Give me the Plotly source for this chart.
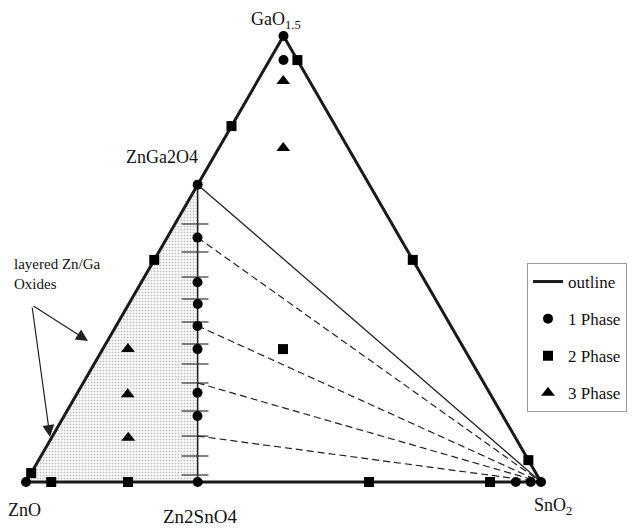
import math
import plotly.graph_objects as go

S3 = math.sqrt(3) / 2

# compositions as (SnO2 fraction, GaO1.5 fraction); ZnO = remainder
vertices = {"ZnO": (0.0, 0.0), "SnO2": (1.0, 0.0), "GaO1.5": (0.0, 1.0)}
zn_ga2o4 = (0.0, 2 / 3)
zn2sno4 = (1 / 3, 0.0)

one_phase_sn = [0.0, 0.027, 0.0, 0.059, 0.109, 0.134, 0.158, 0.184, 0.233, 0.259, 1 / 3, 0.0, 0.951, 0.980, 1.0]
one_phase_ga = [1.0, 0.946, 2 / 3, 0.548, 0.448, 0.399, 0.350, 0.298, 0.200, 0.148, 0.0, 0.0, 0.0, 0.0, 0.0]

two_phase_sn = [0.054, 0.0, 0.0, 0.0, 0.049, 0.198, 0.666, 0.901, 0.502, 0.951, 0.350]
two_phase_ga = [0.946, 0.798, 0.498, 0.020, 0.0, 0.0, 0.0, 0.0, 0.498, 0.049, 0.298]

three_phase_sn = [0.050, 0.125, 0.049, 0.099, 0.149]
three_phase_ga = [0.899, 0.749, 0.298, 0.197, 0.099]

# tie lines from the ZnGa2O4-Zn2SnO4 join (Ga fraction) to SnO2
solid_tie_ga = [2 / 3]
dashed_tie_ga = [0.548, 0.350, 0.222, 0.103]

# tick marks along the ZnGa2O4-Zn2SnO4 join (Ga fraction)
join_ticks_ga = [0.5785, 0.5157, 0.4596, 0.4103, 0.3587, 0.3094, 0.2646, 0.2220, 0.1592, 0.1031, 0.0583, 0.0157]


def xy(sn, ga):
    return sn + ga / 2, ga * S3


def join_point(ga):
    # point on ZnGa2O4-Zn2SnO4 join with Ga fraction ga
    t = ga / (2 / 3)
    sn = (1 - t) / 3
    return xy(sn, ga)


def pts(sns, gas):
    xs, ys = [], []
    for s, g in zip(sns, gas):
        x, y = xy(s, g)
        xs.append(x)
        ys.append(y)
    return xs, ys


fig = go.Figure()

# shaded layered Zn/Ga oxide region
sx, sy = pts([vertices["ZnO"][0], zn_ga2o4[0], zn2sno4[0]], [vertices["ZnO"][1], zn_ga2o4[1], zn2sno4[1]])
fig.add_trace(go.Scatter(x=sx + [sx[0]], y=sy + [sy[0]], mode="lines", fill="toself",
                         line=dict(width=0), fillcolor="rgba(0,0,0,0)",
                         fillpattern=dict(shape=".", size=3, solidity=0.4, fgcolor="#8a8a8a", bgcolor="white"),
                         showlegend=False, hoverinfo="skip"))

# join line
jx, jy = pts([zn_ga2o4[0], zn2sno4[0]], [zn_ga2o4[1], zn2sno4[1]])
fig.add_trace(go.Scatter(x=jx, y=jy, mode="lines", line=dict(color="#222", width=1.5),
                         showlegend=False, hoverinfo="skip"))

# ticks on the join
tx, ty = [], []
for g in join_ticks_ga:
    x, y = join_point(g)
    tx += [x - 0.031, x + 0.021, None]
    ty += [y, y, None]
fig.add_trace(go.Scatter(x=tx, y=ty, mode="lines", line=dict(color="#333", width=1.2),
                         showlegend=False, hoverinfo="skip"))

snx, sny = xy(*vertices["SnO2"])
# tie lines
for g in solid_tie_ga:
    x, y = join_point(g)
    fig.add_trace(go.Scatter(x=[x, snx], y=[y, sny], mode="lines", line=dict(color="#222", width=1.3),
                             showlegend=False, hoverinfo="skip"))
for g in dashed_tie_ga:
    x, y = join_point(g)
    fig.add_trace(go.Scatter(x=[x, snx], y=[y, sny], mode="lines",
                             line=dict(color="#222", width=1.2, dash="7px,4px"),
                             showlegend=False, hoverinfo="skip"))

# outline
ox, oy = pts([0, 1, 0, 0], [0, 0, 1, 0])
fig.add_trace(go.Scatter(x=ox, y=oy, mode="lines", name="outline", line=dict(color="#1a1a1a", width=3),
                         legendgroup="a", hoverinfo="skip"))

mx, my = pts(one_phase_sn, one_phase_ga)
fig.add_trace(go.Scatter(x=mx, y=my, mode="markers", name="1 Phase", legendgroup="b",
                         marker=dict(symbol="circle", size=10, color="black")))
mx, my = pts(two_phase_sn, two_phase_ga)
fig.add_trace(go.Scatter(x=mx, y=my, mode="markers", name="2 Phase", legendgroup="c",
                         marker=dict(symbol="square", size=10, color="black")))
mx, my = pts(three_phase_sn, three_phase_ga)
fig.add_trace(go.Scatter(x=mx, y=my, mode="markers", name="3 Phase", legendgroup="d",
                         marker=dict(symbol="triangle-up", size=12, color="black")))

FONT = "Liberation Serif, Times New Roman, serif"


def label(x, y, text, xanchor="center", size=18):
    fig.add_annotation(x=x, y=y, xref="x", yref="y", text=text, showarrow=False,
                       xanchor=xanchor, yanchor="middle", font=dict(family=FONT, size=size, color="#111"))


def px2d(px, py):
    return (px - 26) / 515, (482 - py) / 515


label(*px2d(276, 20), "GaO<sub>1.5</sub>")
label(*px2d(162, 157), "ZnGa2O4")
label(*px2d(24, 510), "ZnO")
label(*px2d(200, 516), "Zn2SnO4", size=19)
label(*px2d(553, 506), "SnO<sub>2</sub>")
label(*px2d(12, 264), "layered Zn/Ga", xanchor="left", size=15)
label(*px2d(12, 284), "Oxides", xanchor="left", size=15)

for head, tail in [((88, 341), (32, 305)), ((50, 437), (32, 306))]:
    hx, hy = px2d(*head)
    ax_, ay_ = px2d(*tail)
    fig.add_annotation(x=hx, y=hy, ax=ax_, ay=ay_, xref="x", yref="y", axref="x", ayref="y",
                       text="", showarrow=True, arrowhead=2, arrowsize=2.0, arrowwidth=1.2,
                       arrowcolor="#222")

fig.update_layout(
    width=644, height=528, margin=dict(l=0, r=0, t=0, b=0, autoexpand=False),
    plot_bgcolor="white", paper_bgcolor="white",
    xaxis=dict(range=[-26 / 515, 618 / 515], visible=False, fixedrange=True),
    yaxis=dict(range=[-46 / 515, 482 / 515], visible=False, fixedrange=True),
    showlegend=True,
    legend=dict(x=527 / 644, y=1 - 263 / 528, xanchor="left", yanchor="top",
                bgcolor="white", bordercolor="#999", borderwidth=1,
                font=dict(family=FONT, size=17, color="#111"),
                traceorder="grouped", tracegroupgap=12, itemwidth=30),
)

fig.write_html("out.html", config={"displayModeBar": False},
               post_script="document.body.style.margin='0';")
